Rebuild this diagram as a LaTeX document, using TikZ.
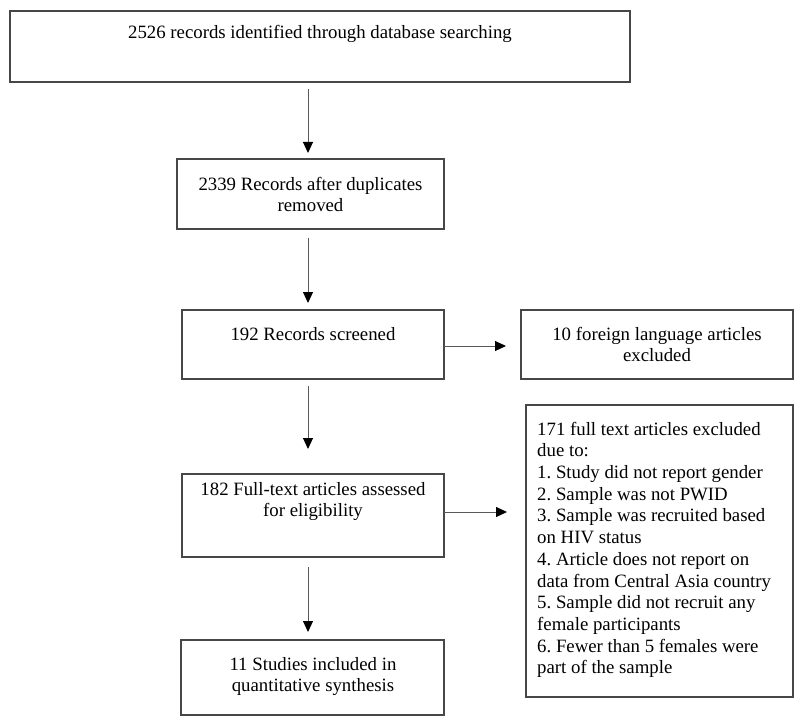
\documentclass[tikz,border=0pt]{standalone}
\usepackage{fontspec}
\setmainfont{Liberation Serif}
\usetikzlibrary{arrows.meta}
\frenchspacing
\begin{document}
\begin{tikzpicture}[x=1pt,y=-1pt]
\tikzset{
 box/.style={draw=black!72, line width=1.2pt, inner sep=0pt, outer sep=0pt, anchor=north west},
 lbl/.style={inner sep=0pt, font=\fontsize{18.8}{21.7}\selectfont\frenchspacing, text=black},
 arr/.style={draw=black!65, line width=1pt, -{Triangle[width=10pt,length=11pt,color=black]}},
}
\useasboundingbox (0,0) rectangle (800,727);
% boxes
\node[box, minimum width=620pt, minimum height=71pt] (top) at (10,11) {};
\node[box, minimum width=267pt, minimum height=70pt] (b2) at (177,159) {};
\node[box, minimum width=262pt, minimum height=69pt] (b3) at (182,310) {};
\node[box, minimum width=272pt, minimum height=69pt] (r1) at (521,310) {};
\node[box, minimum width=262pt, minimum height=83pt] (b4) at (182,474) {};
\node[box, minimum width=267pt, minimum height=292pt] (r2) at (526,405) {};
\node[box, minimum width=263pt, minimum height=75pt] (b5) at (181,640) {};
% labels
\node[lbl, anchor=north] (topT) at (320,22.8) {\strut 2526 records identified through database searching};
\node[lbl, anchor=north, align=center] (b2T) at (310.5,174.8) {\strut 2339 Records after duplicates\\removed};
\node[lbl, anchor=north] (b3T) at (313,324.8) {\strut 192 Records screened};
\node[lbl, anchor=north, align=center] (r1T) at (657,324.8) {\strut 10 foreign language articles\\excluded};
\node[lbl, anchor=north, align=center] (b4T) at (313,479.8) {\strut 182 Full-text articles assessed\\for eligibility};
\node[lbl, anchor=north west, align=left] (r2T) at (537,419.8) {\strut 171 full text articles excluded\\due to:\\1. Study did not report gender\\2. Sample was not PWID\\3. Sample was recruited based\\on HIV status\\4. Article does not report on\\data from Central Asia country\\5. Sample did not recruit any\\female participants\\6. Fewer than 5 females were\\part of the sample};
\node[lbl, anchor=north, align=center] (b5T) at (313,654.8) {\strut 11 Studies included in\\quantitative synthesis};
% connectors
\coordinate (ax) at (308,0);
\coordinate (h1) at (0,346);
\coordinate (h2) at (0,512);
\draw[arr, shorten <=7pt, shorten >=6pt] (top.south -| ax) -- (b2.north -| ax);
\draw[arr, shorten <=9pt, shorten >=7pt] (b2.south -| ax) -- (b3.north -| ax);
\draw[arr, shorten <=7pt, shorten >=25pt] (b3.south -| ax) -- (b4.north -| ax);
\draw[arr, shorten <=10pt, shorten >=8pt] (b4.south -| ax) -- (b5.north -| ax);
\draw[arr, shorten >=15pt] (b3.east |- h1) -- (r1.west |- h1);
\draw[arr, shorten >=19pt] (b4.east |- h2) -- (r2.west |- h2);
\end{tikzpicture}
\end{document}
